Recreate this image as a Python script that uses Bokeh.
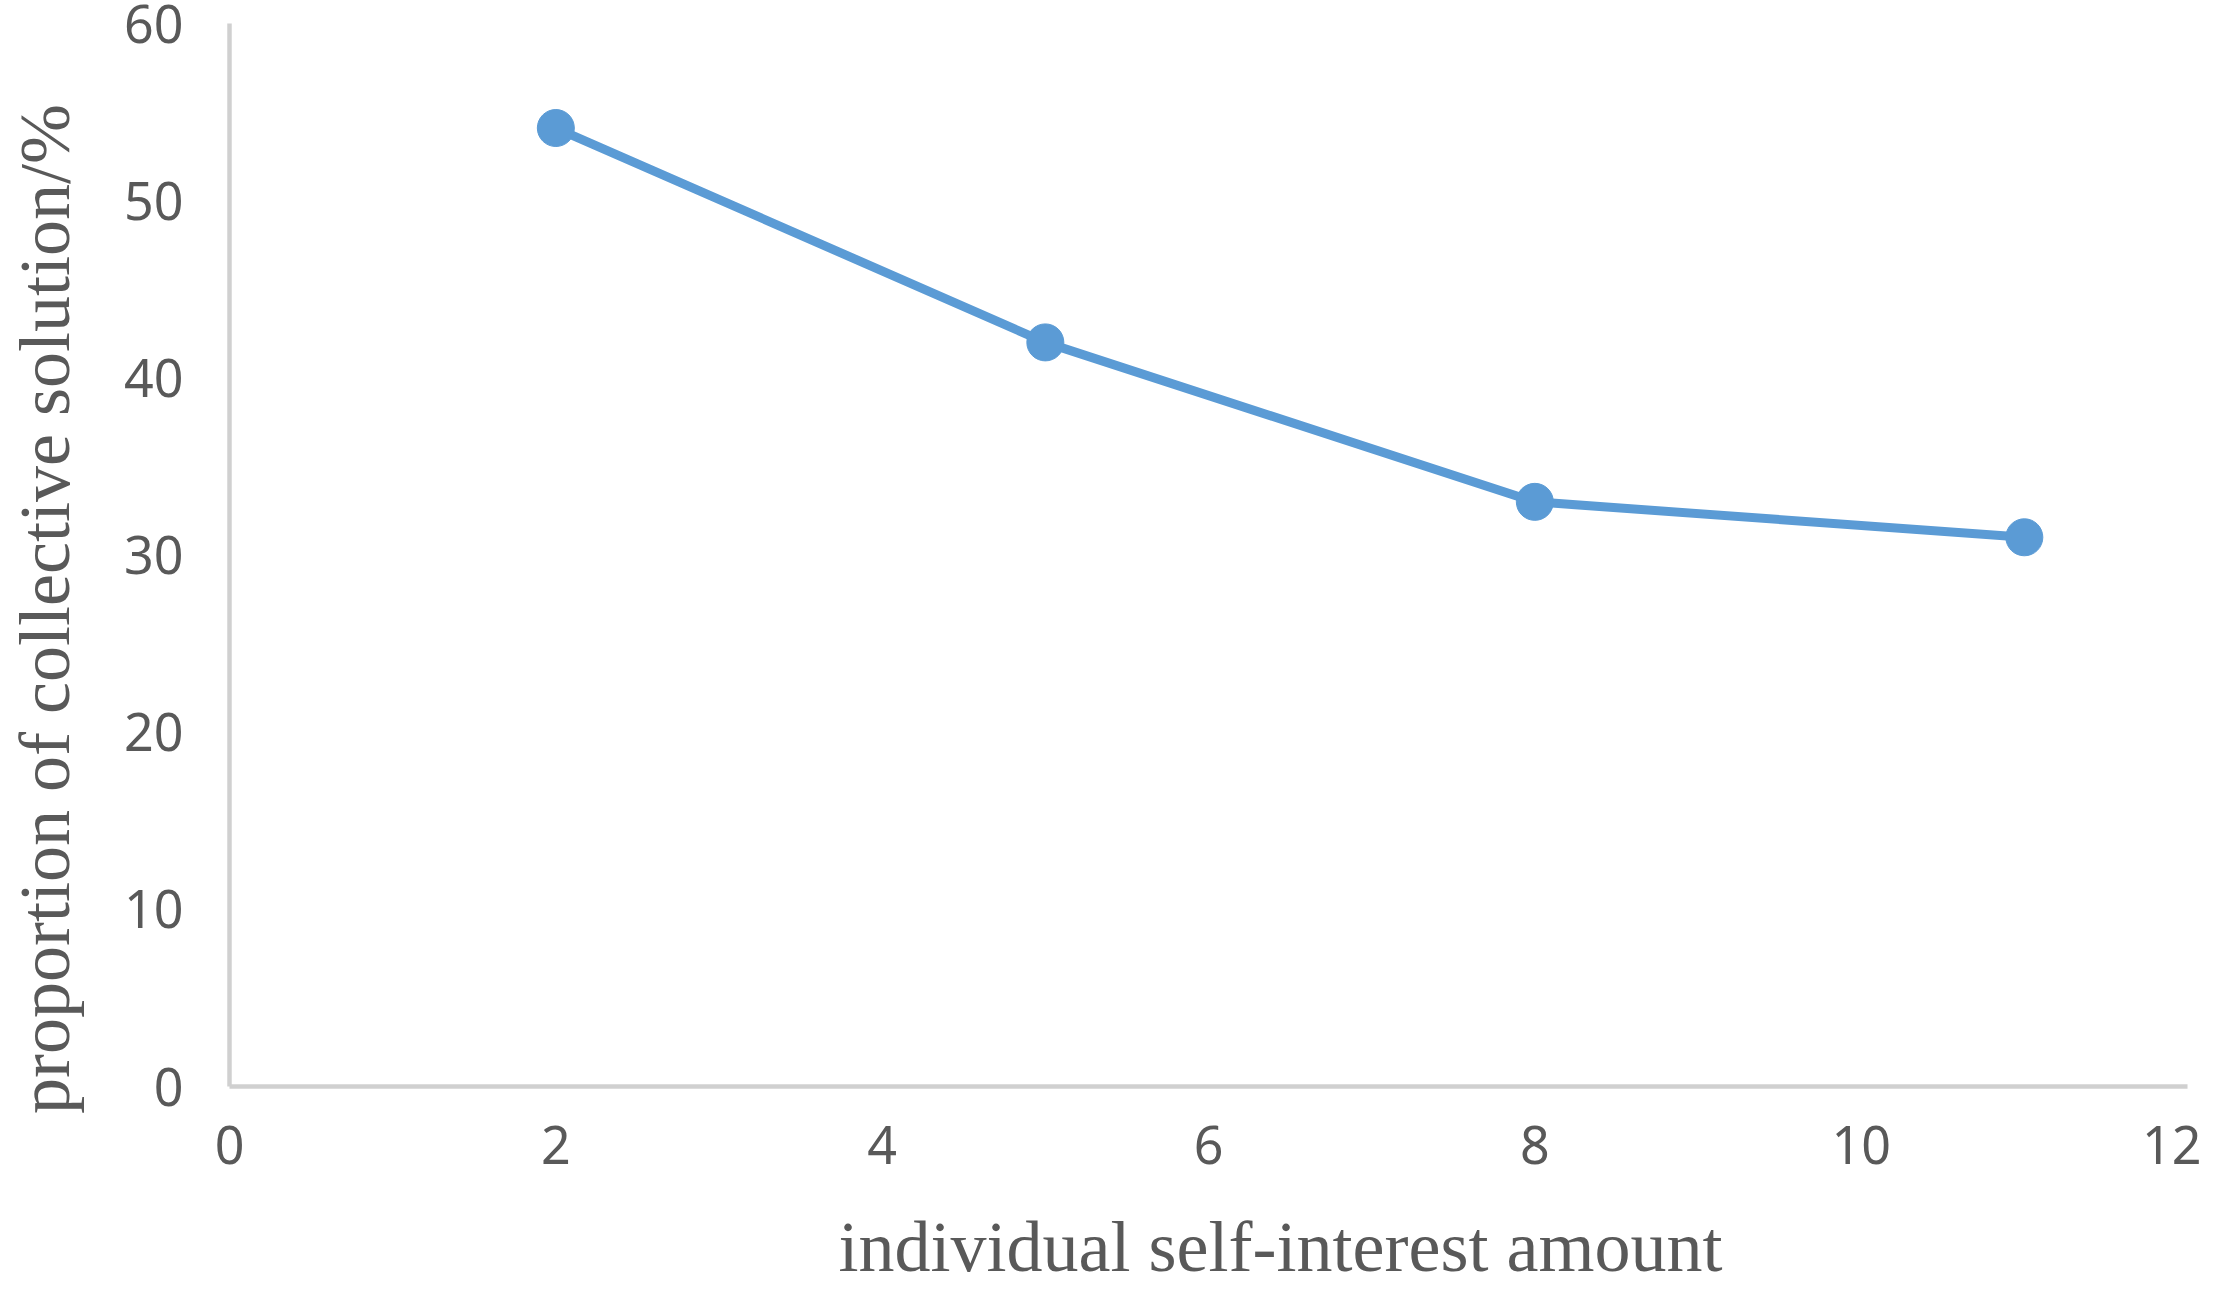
from bokeh.plotting import figure
from bokeh.models import Range1d, FixedTicker
from bokeh.embed import file_html
from bokeh.resources import INLINE

# data
self_interest = [2, 5, 8, 11]
collective_pct = [54.1, 42.0, 33.0, 31.0]
x_ticks = [0, 2, 4, 6, 8, 10, 12]
y_ticks = [0, 10, 20, 30, 40, 50, 60]
x_title = "individual self-interest amount"
y_title = "proportion of collective solution/%"

BLUE = "#5B9BD5"
GRAY = "#595959"
AXIS = "#D0D0D0"
NBSP = "\u00a0"

p = figure(width=2201, height=1290, output_backend="svg", toolbar_location=None,
           x_range=Range1d(0, 12), y_range=Range1d(0, 60),
           min_border_left=229, min_border_right=14, min_border_top=23, min_border_bottom=204)
p.outline_line_color = None
p.grid.visible = False
p.background_fill_color = "white"
p.border_fill_color = "white"

p.line(self_interest, collective_pct, line_color=BLUE, line_width=9)
p.scatter(self_interest, collective_pct, size=37, fill_color=BLUE, line_color=BLUE)

for ax in (p.xaxis[0], p.yaxis[0]):
    ax.axis_line_color = AXIS
    ax.axis_line_width = 4.5
    ax.major_tick_line_color = None
    ax.minor_tick_line_color = None
    ax.major_label_text_font = "Noto Sans"
    ax.major_label_text_font_size = "52px"
    ax.major_label_text_color = GRAY
    ax.axis_label_text_font = "Liberation Serif"
    ax.axis_label_text_font_size = "72px"
    ax.axis_label_text_font_style = "normal"
    ax.axis_label_text_color = GRAY

p.xaxis[0].ticker = FixedTicker(ticks=x_ticks)
p.yaxis[0].ticker = FixedTicker(ticks=y_ticks)
p.xaxis[0].major_label_standoff = 33
p.yaxis[0].major_label_standoff = 40

# leading / trailing no-break spaces shift the centred titles along their axes
p.xaxis[0].axis_label = NBSP * 8 + x_title
p.xaxis[0].axis_label_standoff = 40
p.yaxis[0].axis_label = y_title + NBSP * 6
p.yaxis[0].axis_label_standoff = 36

open("out.html", "w").write(file_html(p, INLINE))
